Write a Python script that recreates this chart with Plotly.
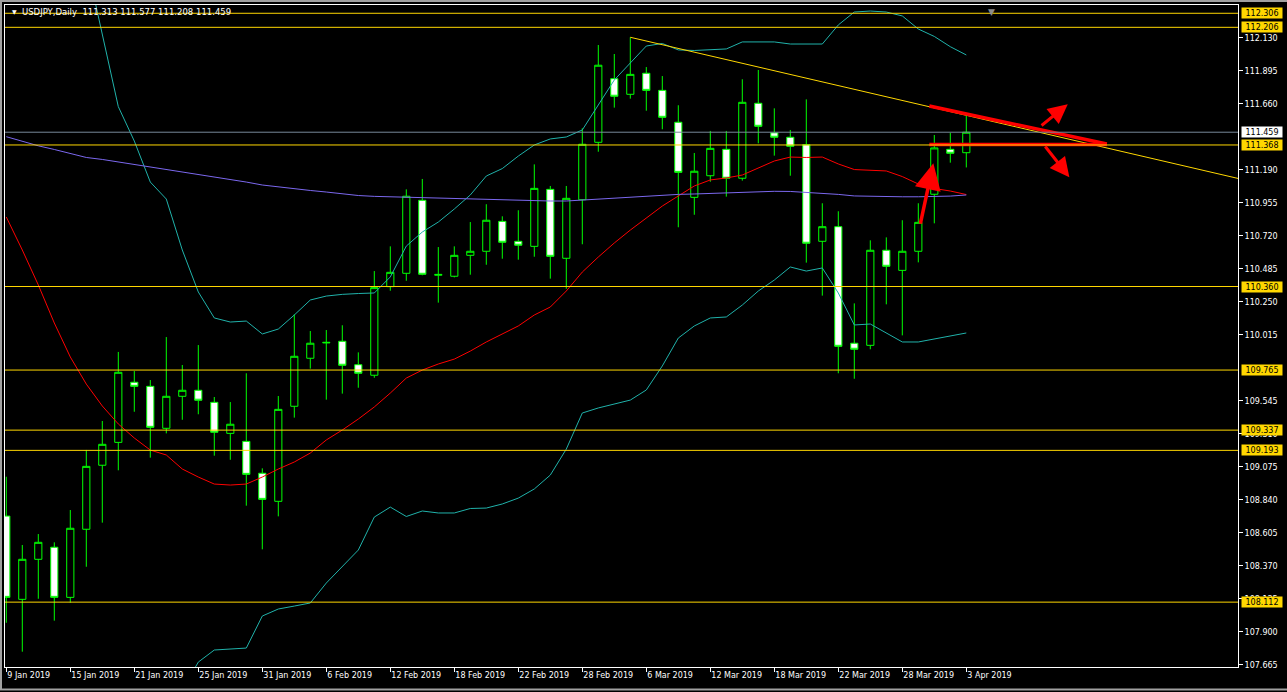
import plotly.graph_objects as go

# ---------------- data ----------------
bar_dates = ["9 Jan", "10 Jan", "11 Jan", "14 Jan", "15 Jan", "16 Jan", "17 Jan", "18 Jan",
             "21 Jan", "22 Jan", "23 Jan", "24 Jan", "25 Jan", "28 Jan", "29 Jan", "30 Jan",
             "31 Jan", "1 Feb", "4 Feb", "5 Feb", "6 Feb", "7 Feb", "8 Feb", "11 Feb",
             "12 Feb", "13 Feb", "14 Feb", "15 Feb", "18 Feb", "19 Feb", "20 Feb", "21 Feb",
             "22 Feb", "25 Feb", "26 Feb", "27 Feb", "28 Feb", "1 Mar", "4 Mar", "5 Mar",
             "6 Mar", "7 Mar", "8 Mar", "11 Mar", "12 Mar", "13 Mar", "14 Mar", "15 Mar",
             "18 Mar", "19 Mar", "20 Mar", "21 Mar", "22 Mar", "25 Mar", "26 Mar", "27 Mar",
             "28 Mar", "29 Mar", "1 Apr", "2 Apr", "3 Apr"]

opens = [108.725, 108.132, 108.417, 108.503, 108.146, 108.631, 109.087, 109.250, 109.678, 109.649,
         109.350, 109.578, 109.621, 109.535, 109.314, 109.257, 109.030, 108.830, 109.507, 109.849,
         109.958, 109.970, 109.803, 109.728, 110.359, 110.454, 110.974, 110.440, 110.433, 110.582,
         110.611, 110.824, 110.682, 110.646, 111.052, 110.561, 110.978, 111.387, 111.840, 111.729,
         111.879, 111.757, 111.530, 110.995, 111.149, 111.337, 111.131, 111.665, 111.455, 111.423,
         111.370, 110.682, 110.786, 109.956, 109.941, 110.618, 110.475, 110.611, 111.017, 111.337,
         111.313]
highs = [109.005, 108.519, 108.597, 108.538, 108.768, 109.196, 109.402, 109.894, 109.758, 109.694,
         110.000, 109.801, 109.943, 109.573, 109.537, 109.742, 109.065, 109.580, 110.162, 110.043,
         110.050, 110.084, 109.891, 110.470, 110.646, 111.052, 111.126, 110.641, 110.646, 110.819,
         110.946, 110.860, 110.903, 111.230, 111.076, 111.076, 111.487, 112.080, 112.016, 112.135,
         111.923, 111.859, 111.651, 111.311, 111.468, 111.468, 111.836, 111.902, 111.629, 111.475,
         111.693, 110.953, 110.896, 110.240, 110.689, 110.710, 110.832, 110.953, 111.439, 111.455,
         111.577]
lows = [107.965, 107.759, 108.136, 107.980, 108.108, 108.364, 108.678, 109.051, 109.468, 109.141,
        109.314, 109.411, 109.450, 109.155, 109.126, 108.799, 108.488, 108.723, 109.426, 109.775,
        109.554, 109.597, 109.639, 109.710, 110.330, 110.401, 110.440, 110.245, 110.425, 110.444,
        110.515, 110.558, 110.551, 110.572, 110.416, 110.344, 110.661, 111.320, 111.634, 111.698,
        111.612, 111.480, 110.782, 110.871, 111.106, 111.000, 111.114, 111.380, 111.292, 111.149,
        110.530, 110.295, 109.742, 109.703, 109.913, 110.233, 110.012, 110.532, 110.810, 111.242,
        111.208]
closes = [108.146, 108.417, 108.538, 108.146, 108.638, 109.079, 109.236, 109.749, 109.649, 109.357,
          109.578, 109.621, 109.550, 109.322, 109.379, 109.022, 108.844, 109.485, 109.863, 109.956,
          109.962, 109.799, 109.742, 110.352, 110.461, 111.003, 110.447, 110.446, 110.582, 110.611,
          110.832, 110.675, 110.654, 111.059, 110.575, 110.988, 111.373, 111.936, 111.715, 111.871,
          111.757, 111.565, 111.173, 111.181, 111.344, 111.131, 111.672, 111.501, 111.423, 111.359,
          110.668, 110.786, 109.934, 109.913, 110.618, 110.504, 110.611, 110.817, 111.347, 111.309,
          111.459]

bb_upper = [None, None, None, None, None, 112.671, 112.151, 111.641, 111.396, 111.104,
            110.983, 110.620, 110.321, 110.136, 110.107, 110.114, 110.022, 110.057, 110.157, 110.264,
            110.292, 110.304, 110.310, 110.314, 110.428, 110.648, 110.748, 110.819, 110.912, 111.012,
            111.147, 111.200, 111.289, 111.368, 111.411, 111.425, 111.475, 111.653, 111.831, 111.952,
            112.073, 112.091, 112.045, 112.041, 112.045, 112.052, 112.102, 112.102, 112.102, 112.087,
            112.087, 112.087, 112.223, 112.315, 112.322, 112.315, 112.287, 112.194, 112.141, 112.068,
            112.009]
bb_lower = [None, None, None, None, None, None, None, None, None, None,
            None, 107.486, 107.685, 107.771, 107.778, 107.785, 108.013, 108.063, 108.084, 108.106,
            108.248, 108.362, 108.483, 108.718, 108.789, 108.722, 108.761, 108.747, 108.747, 108.779,
            108.782, 108.811, 108.853, 108.918, 109.017, 109.202, 109.459, 109.495, 109.523, 109.551,
            109.623, 109.794, 109.993, 110.079, 110.136, 110.143, 110.228, 110.328, 110.406, 110.499,
            110.470, 110.492, 110.314, 110.086, 110.093, 110.029, 109.965, 109.965, 109.986, 110.007,
            110.029]
ma_red = [110.855, 110.620, 110.371, 110.100, 109.858, 109.665, 109.509, 109.381, 109.281, 109.195,
          109.160, 109.060, 109.003, 108.953, 108.946, 108.953, 109.003, 109.060, 109.110, 109.174,
          109.267, 109.338, 109.416, 109.502, 109.601, 109.708, 109.765, 109.808, 109.843, 109.900,
          109.965, 110.022, 110.079, 110.157, 110.214, 110.328, 110.463, 110.570, 110.670, 110.762,
          110.848, 110.933, 111.005, 111.076, 111.119, 111.133, 111.154, 111.204, 111.254, 111.282,
          111.279, 111.282, 111.233, 111.193, 111.190, 111.183, 111.143, 111.090, 111.058, 111.040,
          111.015]
ma_blue = [111.427, 111.393, 111.362, 111.336, 111.307, 111.279, 111.265, 111.247, 111.229, 111.213,
           111.197, 111.179, 111.161, 111.144, 111.126, 111.104, 111.083, 111.069, 111.054, 111.044,
           111.033, 111.019, 111.008, 111.002, 110.999, 110.996, 110.993, 110.989, 110.985, 110.981,
           110.978, 110.976, 110.975, 110.973, 110.969, 110.969, 110.976, 110.983, 110.990, 111.000,
           111.005, 111.012, 111.016, 111.019, 111.023, 111.026, 111.031, 111.036, 111.038, 111.037,
           111.031, 111.026, 111.016, 111.005, 111.002, 111.000, 110.999, 110.999, 111.000, 111.004,
           111.012]

levels = [112.306, 112.206, 111.368, 110.360, 109.765, 109.337, 109.193, 108.112]
bid_price = 111.459

trend_pts_x = [39, 77.5]
trend_pts_y = [112.135, 111.116]

red_lines = [([57.69, 68.78], [111.646, 111.375]),
             ([57.69, 68.78], [111.372, 111.372])]
red_arrows = [((64.61, 111.498), (66.34, 111.658)),
              ((64.86, 111.368), (66.44, 111.138)),
              ((57.11, 110.798), (57.94, 111.237))]

x_tick_idx = [0, 4, 8, 12, 16, 20, 24, 28, 32, 36, 40, 44, 48, 52, 56, 60]
x_tick_text = ["9 Jan 2019", "15 Jan 2019", "21 Jan 2019", "25 Jan 2019", "31 Jan 2019",
               "6 Feb 2019", "12 Feb 2019", "18 Feb 2019", "22 Feb 2019", "28 Feb 2019",
               "6 Mar 2019", "12 Mar 2019", "18 Mar 2019", "22 Mar 2019", "28 Mar 2019",
               "3 Apr 2019"]
y_tick_text = ["112.130", "111.895", "111.660", "111.190", "110.955", "110.720",
               "110.485", "110.250", "110.015", "109.545", "109.310", "109.075",
               "108.840", "108.605", "108.370", "108.135", "107.900", "107.665"]
y_tick_vals = [float(t) for t in y_tick_text]

title_text = "USDJPY,Daily  111.313 111.577 111.208 111.459"

# ---------------- figure ----------------
FONT = "DejaVu Sans"
idx = list(range(len(opens)))
W, H = 1287, 692
ML, MR, MT, MB = 5, 49, 5, 25
PW = W - ML - MR
PH = H - MT - MB

fig = go.Figure()
fig.add_trace(go.Candlestick(
    x=idx, open=opens, high=highs, low=lows, close=closes,
    increasing=dict(line=dict(color="#00FF00", width=1), fillcolor="#000000"),
    decreasing=dict(line=dict(color="#00FF00", width=1), fillcolor="#FFFFFF"),
    whiskerwidth=0, hoverinfo="skip", showlegend=False))

for series, col in [(bb_upper, "#20B2AA"), (bb_lower, "#20B2AA"),
                    (ma_red, "#FF0000"), (ma_blue, "#7B68EE")]:
    fig.add_trace(go.Scatter(x=idx, y=series, mode="lines", showlegend=False,
                             hoverinfo="skip", line=dict(color=col, width=1)))

fig.add_trace(go.Scatter(x=trend_pts_x, y=trend_pts_y, mode="lines", showlegend=False,
                         hoverinfo="skip", line=dict(color="#FFD700", width=1)))

for xs, ys in red_lines:
    fig.add_trace(go.Scatter(x=xs, y=ys, mode="lines", showlegend=False, hoverinfo="skip",
                             line=dict(color="#FF0000", width=3.5)))

shapes = []
for v in levels:
    shapes.append(dict(type="line", xref="paper", x0=0, x1=1, yref="y", y0=v, y1=v,
                       line=dict(color="#FFD700", width=1), layer="above"))
shapes.append(dict(type="line", xref="paper", x0=0, x1=1, yref="y", y0=bid_price, y1=bid_price,
                   line=dict(color="#778899", width=1), layer="above"))
# outer window frame (left / top / bottom gray borders)
shapes.append(dict(type="rect", xref="paper", yref="paper",
                   x0=-(ML - 1) / PW, x1=1 + (MR + 2) / PW,
                   y0=-(MB - 2.5) / PH, y1=1 + (MT - 1) / PH,
                   line=dict(color="#A0A0A0", width=2), layer="above"))

annotations = []
lab_x = 1 + 3.5 / PW
for v in levels:
    annotations.append(dict(xref="paper", x=lab_x, xanchor="left", yref="y", y=v, yanchor="middle",
                            text=f"{v:.3f}", showarrow=False, bgcolor="#FFD700",
                            font=dict(family=FONT, size=8, color="#000000"),
                            width=40, height=10, borderpad=0, align="center"))
annotations.append(dict(xref="paper", x=lab_x, xanchor="left", yref="y", y=bid_price,
                        yanchor="middle", text=f"{bid_price:.3f}", showarrow=False,
                        bgcolor="#FFFFFF", font=dict(family=FONT, size=8, color="#000000"),
                        width=40, height=10, borderpad=0, align="center"))

for k, ((sx, sy), (ex, ey)) in enumerate(red_arrows):
    big = k == len(red_arrows) - 1
    annotations.append(dict(x=ex, y=ey, ax=sx, ay=sy, xref="x", yref="y", axref="x", ayref="y",
                            text="", showarrow=True, arrowhead=2,
                            arrowsize=1.5 if big else 1.3,
                            arrowwidth=3.5 if big else 3, arrowcolor="#FF0000"))

annotations.append(dict(xref="paper", yref="paper", x=(10 - ML) / PW, y=1 - 7 / PH,
                        xanchor="left", yanchor="middle", text="▼", showarrow=False,
                        font=dict(family=FONT, size=6, color="#FFFFFF")))
annotations.append(dict(xref="paper", yref="paper", x=(20 - ML) / PW, y=1 - 7 / PH,
                        xanchor="left", yanchor="middle", text=title_text, showarrow=False,
                        font=dict(family=FONT, size=8.5, color="#FFFFFF")))
annotations.append(dict(xref="paper", yref="paper", x=(991 - ML) / PW, y=1,
                        xanchor="center", yanchor="top", text="▼", showarrow=False,
                        font=dict(family=FONT, size=9, color="#8C8C8C")))

fig.update_layout(
    width=W, height=H, margin=dict(l=ML, r=MR, t=MT, b=MB),
    paper_bgcolor="#000000", plot_bgcolor="#000000",
    showlegend=False, boxgap=0.36,
    shapes=shapes, annotations=annotations,
    xaxis=dict(range=[-0.081, 76.98], tickvals=x_tick_idx, ticktext=x_tick_text,
               ticks="outside", ticklen=4, tickcolor="#FFFFFF",
               ticklabelposition="outside right",
               tickfont=dict(family=FONT, size=8, color="#FFFFFF"),
               showgrid=False, zeroline=False, showline=True, linecolor="#FFFFFF",
               linewidth=1, mirror=True, rangeslider=dict(visible=False), fixedrange=True),
    yaxis=dict(side="right", range=[107.650, 112.365], tickvals=y_tick_vals,
               ticktext=y_tick_text, ticks="outside", ticklen=4, tickcolor="#FFFFFF",
               tickfont=dict(family=FONT, size=8, color="#FFFFFF"),
               showgrid=False, zeroline=False, showline=True, linecolor="#FFFFFF",
               linewidth=1, mirror=True, fixedrange=True),
)

fig.write_html("out.html", config={"displayModeBar": False},
               post_script="document.body.style.margin='0';document.body.style.overflow='hidden';")
